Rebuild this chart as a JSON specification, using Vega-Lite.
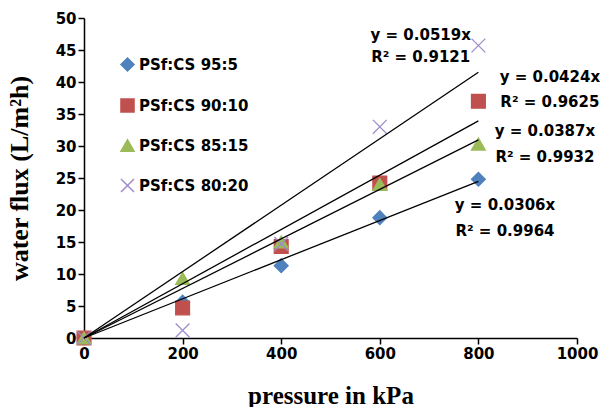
{
  "$schema": "https://vega.github.io/schema/vega-lite/v6.json",
  "width": 493,
  "height": 320,
  "autosize": {"type": "none"},
  "padding": {"left": 84, "top": 18, "right": 24, "bottom": 69},
  "background": "white",
  "config": {
    "view": {"stroke": null},
    "axis": {
      "grid": false,
      "labelFont": "DejaVu Sans",
      "labelFontWeight": "bold",
      "labelFontSize": 15,
      "labelColor": "#000000",
      "labelOverlap": false,
      "labelFlush": false,
      "format": "d",
      "tickColor": "#000000",
      "domainColor": "#000000",
      "domainWidth": 1.5,
      "tickWidth": 1.5,
      "tickSize": 6,
      "titleFont": "Liberation Serif",
      "titleFontWeight": "bold",
      "titleColor": "#000000"
    }
  },
  "datasets": {
    "pts": [
      {"series": "PSf:CS 95:5", "pressure": 0, "flux": 0},
      {"series": "PSf:CS 95:5", "pressure": 200, "flux": 5.6},
      {"series": "PSf:CS 95:5", "pressure": 400, "flux": 11.3},
      {"series": "PSf:CS 95:5", "pressure": 600, "flux": 18.8},
      {"series": "PSf:CS 95:5", "pressure": 800, "flux": 24.8},
      {"series": "PSf:CS 90:10", "pressure": 0, "flux": 0},
      {"series": "PSf:CS 90:10", "pressure": 200, "flux": 4.7},
      {"series": "PSf:CS 90:10", "pressure": 400, "flux": 14.3},
      {"series": "PSf:CS 90:10", "pressure": 600, "flux": 24.2},
      {"series": "PSf:CS 90:10", "pressure": 800, "flux": 37.0},
      {"series": "PSf:CS 85:15", "pressure": 0, "flux": 0},
      {"series": "PSf:CS 85:15", "pressure": 200, "flux": 9.3},
      {"series": "PSf:CS 85:15", "pressure": 400, "flux": 15.0},
      {"series": "PSf:CS 85:15", "pressure": 600, "flux": 24.0},
      {"series": "PSf:CS 85:15", "pressure": 800, "flux": 30.3},
      {"series": "PSf:CS 80:20", "pressure": 0, "flux": 0},
      {"series": "PSf:CS 80:20", "pressure": 200, "flux": 1.2},
      {"series": "PSf:CS 80:20", "pressure": 400, "flux": 14.7},
      {"series": "PSf:CS 80:20", "pressure": 600, "flux": 33.0},
      {"series": "PSf:CS 80:20", "pressure": 800, "flux": 45.7}
    ],
    "trend": [
      {"series": "PSf:CS 95:5", "pressure": 0, "flux": 0},
      {"series": "PSf:CS 95:5", "pressure": 800, "flux": 24.48},
      {"series": "PSf:CS 90:10", "pressure": 0, "flux": 0},
      {"series": "PSf:CS 90:10", "pressure": 800, "flux": 33.92},
      {"series": "PSf:CS 85:15", "pressure": 0, "flux": 0},
      {"series": "PSf:CS 85:15", "pressure": 800, "flux": 30.96},
      {"series": "PSf:CS 80:20", "pressure": 0, "flux": 0},
      {"series": "PSf:CS 80:20", "pressure": 800, "flux": 41.52}
    ],
    "labels": [
      {"text": "y = 0.0519x", "pressure": 683, "flux": 47.3},
      {"text": "R² = 0.9121", "pressure": 683, "flux": 43.9},
      {"text": "y = 0.0424x", "pressure": 945, "flux": 40.8},
      {"text": "R² = 0.9625", "pressure": 945, "flux": 36.9},
      {"text": "y = 0.0387x", "pressure": 935, "flux": 32.3},
      {"text": "R² = 0.9932", "pressure": 935, "flux": 28.3},
      {"text": "y = 0.0306x", "pressure": 854, "flux": 20.8},
      {"text": "R² = 0.9964", "pressure": 854, "flux": 16.7}
    ]
  },
  "encoding": {
    "x": {
      "field": "pressure", "type": "quantitative",
      "scale": {"domain": [0, 1000], "nice": false},
      "axis": {"values": [0, 200, 400, 600, 800, 1000], "title": "pressure in kPa", "titleFontSize": 25, "titlePadding": 22}
    },
    "y": {
      "field": "flux", "type": "quantitative",
      "scale": {"domain": [0, 50], "nice": false},
      "axis": {"values": [0, 5, 10, 15, 20, 25, 30, 35, 40, 45, 50], "title": "water flux (L/m²h)", "titleFontSize": 26, "titlePadding": 23}
    }
  },
  "layer": [
    {
      "data": {"name": "pts"},
      "mark": {"type": "point", "filled": true, "size": 190, "strokeWidth": 1.3, "opacity": 1},
      "encoding": {
        "color": {
          "field": "series", "type": "nominal",
          "scale": {"domain": ["PSf:CS 95:5", "PSf:CS 90:10", "PSf:CS 85:15", "PSf:CS 80:20"], "range": ["#4F81BD", "#C0504D", "#9BBB59", "#9F8CCB"]},
          "legend": {
            "orient": "none", "legendX": 36, "legendY": 39, "title": null,
            "labelFont": "DejaVu Sans", "labelFontWeight": "bold", "labelFontSize": 15, "labelColor": "#000000",
            "symbolSize": 170, "rowPadding": 20, "labelOffset": 4
          }
        },
        "stroke": {
          "field": "series", "type": "nominal",
          "scale": {"domain": ["PSf:CS 95:5", "PSf:CS 90:10", "PSf:CS 85:15", "PSf:CS 80:20"], "range": ["#4F81BD", "#C0504D", "#9BBB59", "#9F8CCB"]}
        },
        "shape": {
          "field": "series", "type": "nominal",
          "scale": {"domain": ["PSf:CS 95:5", "PSf:CS 90:10", "PSf:CS 85:15", "PSf:CS 80:20"], "range": ["diamond", "square", "triangle-up", "M-1,-1L1,1M1,-1L-1,1"]}
        },
        "order": {"field": "series", "sort": "descending"}
      }
    },
    {
      "data": {"name": "trend"},
      "mark": {"type": "line", "color": "#000000", "strokeWidth": 1.3},
      "encoding": {
        "detail": {"field": "series", "type": "nominal"}
      }
    },
    {
      "data": {"name": "labels"},
      "mark": {"type": "text", "font": "DejaVu Sans", "fontWeight": "bold", "fontSize": 15, "color": "#000000", "align": "center", "baseline": "middle"},
      "encoding": {
        "text": {"field": "text", "type": "nominal"}
      }
    }
  ]
}
